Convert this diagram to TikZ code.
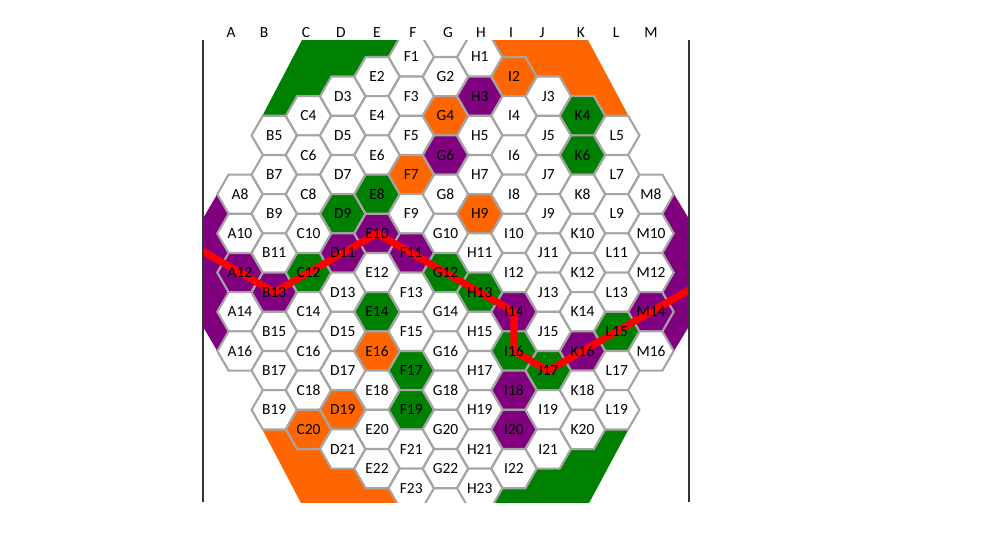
\documentclass[tikz,border=0pt]{standalone}
\usepackage{fontspec}
\setmainfont{Carlito}
\usetikzlibrary{shapes.geometric,calc,backgrounds}

\definecolor{hexgreen}{RGB}{0,128,0}
\definecolor{hexorange}{RGB}{255,102,0}
\definecolor{hexpurple}{RGB}{128,0,128}
\definecolor{hexline}{RGB}{165,165,165}

\tikzset{
  greenhex/.style={fill=hexgreen},
  orangehex/.style={fill=hexorange},
  purplehex/.style={fill=hexpurple},
  % orange cells
  cell I2/.style=orangehex, cell G4/.style=orangehex, cell F7/.style=orangehex,
  cell H9/.style=orangehex, cell E16/.style=orangehex, cell D19/.style=orangehex,
  cell C20/.style=orangehex,
  % purple cells
  cell H3/.style=purplehex, cell G6/.style=purplehex, cell E10/.style=purplehex,
  cell D11/.style=purplehex, cell F11/.style=purplehex, cell A12/.style=purplehex,
  cell B13/.style=purplehex, cell I14/.style=purplehex, cell K16/.style=purplehex,
  cell M14/.style=purplehex, cell I18/.style=purplehex, cell I20/.style=purplehex,
  % green cells
  cell K4/.style=greenhex, cell K6/.style=greenhex, cell F6/.style=greenhex,
  cell E8/.style=greenhex, cell D9/.style=greenhex, cell C12/.style=greenhex,
  cell G12/.style=greenhex, cell H13/.style=greenhex, cell E14/.style=greenhex,
  cell F17/.style=greenhex, cell F19/.style=greenhex, cell I16/.style=greenhex,
  cell J17/.style=greenhex, cell L15/.style=greenhex
}

% column / first row / last row of the board
\def\boardcols{A/0/8/16, B/1/5/19, C/2/4/20, D/3/3/21, E/4/2/22, F/5/1/23,
  G/6/2/22, H/7/1/23, I/8/2/22, J/9/3/17, K/10/4/20, L/11/5/19, M/12/8/16}

\begin{document}
\begin{tikzpicture}[x=0.02cm, y=-0.02cm,
  tile/.style={regular polygon, regular polygon sides=6, minimum size=0.908cm,
               inner sep=0pt, outer sep=0pt, draw=hexline, line width=1.2pt, fill=white},
  celltext/.style={font=\fontsize{8.8}{10}\selectfont, inner sep=0pt},
  colhead/.style={font=\fontsize{8.8}{10}\selectfont, inner sep=0pt},
  frame/.style={line width=1.1pt, black!80},
  route/.style={red, line width=4pt}
]
\useasboundingbox (0,0) rectangle (1000,549);

% column letters
\foreach \col/\xx in {A/231, B/264, C/306, D/341, E/377, F/413, G/448,
                      H/481, I/511, J/542, K/581, L/616, M/651}
  \node[colhead] (head\col) at (\xx,33) {\col};

\begin{scope}
\clip (203,40) rectangle (689,502);

% tiles
\foreach \col/\ci/\first/\last in \boardcols {
  \pgfmathtruncatemacro\second{\first+2}
  \foreach \n in {\first,\second,...,\last}
    \node[tile, cell \col\n/.try] (\col\n) at ({240+34.25*\ci},{57+19.6*(\n-1)}) {};
}
\node[tile] (J19) at ({240+34.25*9},{57+19.6*18}) {};
\node[tile] (J21) at ({240+34.25*9},{57+19.6*20}) {};

% winning path
\coordinate (redL) at (196,247.3);
\coordinate (redR) at (696,286);
\draw[route] (redL) -- (B13.center) -- (E10.center) -- (I14.center)
  -- (I16.center) -- (J17.center) -- (redR);

% cell names
\foreach \col/\ci/\first/\last in \boardcols {
  \pgfmathtruncatemacro\second{\first+2}
  \foreach \n in {\first,\second,...,\last}
    \node[celltext] (t\col\n) at (\col\n) {\col\n};
}
\node[celltext] (tJ19) at (J19) {I19};
\node[celltext] (tJ21) at (J21) {I21};
\end{scope}

% borders of the board
\begin{scope}[on background layer]
\clip (203,40) rectangle (689,502);
\fill[hexgreen] (302,40) -- (F1.corner 2) -- (F1.corner 3) -- (E2.corner 2)
  -- (E2.corner 3) -- (D3.corner 2) -- (D3.corner 3) -- (C4.corner 2)
  -- (C4.corner 3) -- (B5.corner 2) -- ($(B5.corner 2)!0.5!(B5.corner 3)$) -- cycle;
\fill[hexorange] (H1.corner 1) -- (H1.corner 6) -- (I2.corner 1) -- (I2.corner 6)
  -- (J3.corner 1) -- (J3.corner 6) -- (K4.corner 1) -- (K4.corner 6)
  -- (L5.corner 1) -- ($(L5.corner 1)!0.5!(L5.corner 6)$) -- (588,40) -- cycle;
\fill[hexorange] ($(B19.corner 3)!0.5!(B19.corner 4)$) -- (B19.corner 4)
  -- (B19.corner 5) -- (C20.corner 4) -- (C20.corner 5) -- (D21.corner 4)
  -- (D21.corner 5) -- (E22.corner 4) -- (E22.corner 5) -- (F23.corner 4)
  -- (302,505) -- cycle;
\fill[hexgreen] ($(L19.corner 6)!0.5!(L19.corner 5)$) -- (L19.corner 5)
  -- (L19.corner 4) -- (K20.corner 5) -- (K20.corner 4) -- (J21.corner 5)
  -- (J21.corner 4) -- (I22.corner 5) -- (I22.corner 4) -- (H23.corner 5)
  -- (588,505) -- cycle;
\fill[hexpurple] ($(A8.corner 2)!0.5!(A8.corner 3)$) -- (A8.corner 3)
  -- (A8.corner 4) -- (A10.corner 3) -- (A10.corner 4) -- (A12.corner 3)
  -- (A12.corner 4) -- (A14.corner 3) -- (A14.corner 4) -- (A16.corner 3)
  -- ($(A16.corner 3)!0.5!(A16.corner 4)$) -- (195,313) -- (195,232) -- cycle;
\fill[hexpurple] ($(M8.corner 1)!0.5!(M8.corner 6)$) -- (M8.corner 6)
  -- (M8.corner 5) -- (M10.corner 6) -- (M10.corner 5) -- (M12.corner 6)
  -- (M12.corner 5) -- (M14.corner 6) -- (M14.corner 5) -- (M16.corner 6)
  -- ($(M16.corner 6)!0.5!(M16.corner 5)$) -- (697,313) -- (697,232) -- cycle;
\end{scope}

\draw[frame] (203,40) -- (203,502);
\draw[frame] (689,40) -- (689,502);
\end{tikzpicture}
\end{document}
